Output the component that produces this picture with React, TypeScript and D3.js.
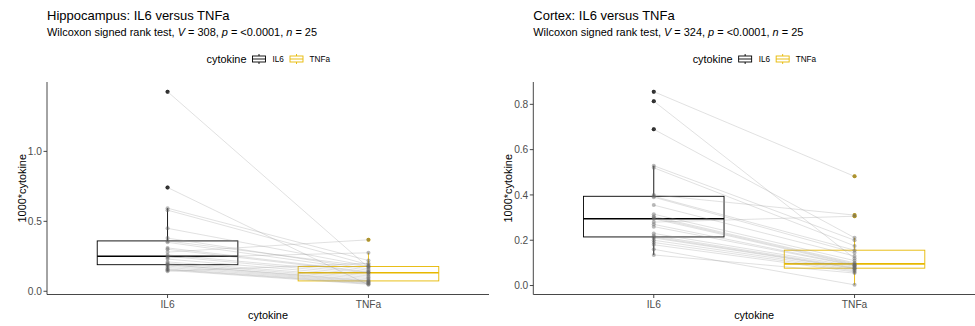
import React from "react";
import * as d3 from "d3";

const groups = ["IL6", "TNFa"];

// hippocampus, paired by subject (same index)
const hippoIL6 = [1.427, 0.742, 0.594, 0.58, 0.45, 0.38, 0.36, 0.35, 0.31, 0.30, 0.28, 0.26, 0.25, 0.24, 0.23, 0.21, 0.20, 0.19, 0.19, 0.18, 0.17, 0.16, 0.155, 0.15, 0.143];
const hippoTNFa = [0.17, 0.046, 0.22, 0.19, 0.18, 0.16, 0.177, 0.15, 0.14, 0.135, 0.368, 0.132, 0.12, 0.275, 0.11, 0.10, 0.09, 0.08, 0.074, 0.07, 0.065, 0.06, 0.055, 0.05, 0.20];

// cortex
const cortexIL6 = [0.856, 0.814, 0.69, 0.529, 0.52, 0.40, 0.394, 0.39, 0.355, 0.315, 0.305, 0.30, 0.295, 0.28, 0.27, 0.26, 0.23, 0.22, 0.2145, 0.21, 0.20, 0.19, 0.18, 0.16, 0.135];
const cortexTNFa = [0.482, 0.12, 0.211, 0.20, 0.175, 0.311, 0.156, 0.145, 0.13, 0.11, 0.10, 0.0956, 0.092, 0.306, 0.09, 0.088, 0.085, 0.08, 0.0766, 0.075, 0.07, 0.065, 0.06, 0.003, 0.055];

const yTicksHippo = [0, 0.5, 1.0];
const yTicksCortex = [0, 0.2, 0.4, 0.6, 0.8];

const colors = { IL6: "#000000", TNFa: "#E7B800" };
const font = "'Liberation Sans', Arial, sans-serif";

const boxStats = (vals: number[]) => {
  const s = vals.slice().sort(d3.ascending);
  const q1 = d3.quantile(s, 0.25) as number;
  const med = d3.quantile(s, 0.5) as number;
  const q3 = d3.quantile(s, 0.75) as number;
  const iqr = q3 - q1;
  const inside = s.filter(v => v >= q1 - 1.5 * iqr && v <= q3 + 1.5 * iqr);
  return {
    q1, med, q3,
    lo: d3.min(inside) as number,
    hi: d3.max(inside) as number,
    out: s.filter(v => v < q1 - 1.5 * iqr || v > q3 + 1.5 * iqr),
  };
};

const Legend = ({ cx }: { cx: number }) => {
  const y = 59;
  const key = (x: number, c: string) => (
    <g stroke={c} strokeWidth={0.9} fill="none">
      <line x1={x + 6.5} x2={x + 6.5} y1={y - 5} y2={y - 3} />
      <rect x={x} y={y - 3} width={13} height={6} />
      <line x1={x} x2={x + 13} y1={y} y2={y} />
      <line x1={x + 6.5} x2={x + 6.5} y1={y + 3} y2={y + 5} />
    </g>
  );
  return (
    <g fontFamily={font}>
      <text x={cx - 61.5} y={y + 4} fontSize={10.9} fill="#000">cytokine</text>
      {key(cx - 15.5, colors.IL6)}
      <text x={cx + 4.5} y={y + 3} fontSize={8.2} fill="#000">IL6</text>
      {key(cx + 22, colors.TNFa)}
      <text x={cx + 41.5} y={y + 3} fontSize={8.2} fill="#000">TNFa</text>
    </g>
  );
};

const Panel = ({ x0, x1, title, V, il6, tnfa, ticks }: any) => {
  const top = 82;
  const bottom = 294.5;
  const all = il6.concat(tnfa);
  const [mn, mx] = d3.extent(all) as [number, number];
  const pad = (mx - mn) * 0.05;
  const y = d3.scaleLinear().domain([mn - pad, mx + pad]).range([bottom, top]);
  const x = d3.scalePoint().domain(groups).range([x0, x1]).padding(0.6);
  const bw = x.step() * 0.7;
  const data: Record<string, number[]> = { IL6: il6, TNFa: tnfa };
  const cx = (x0 + x1) / 2;

  return (
    <g fontFamily={font}>
      <text x={x0} y={20} fontSize={13} fill="#000">{title}</text>
      <text x={x0} y={36} fontSize={10.95} fill="#000">
        Wilcoxon signed rank test, <tspan fontStyle="italic">V</tspan> = {V}, <tspan fontStyle="italic">p</tspan> = &lt;0.0001, <tspan fontStyle="italic">n</tspan> = 25
      </text>
      <Legend cx={cx} />

      {groups.map(g => {
        const st = boxStats(data[g]);
        const gx = x(g) as number;
        return (
          <g key={g} stroke={colors[g as "IL6" | "TNFa"]} fill="none">
            <line x1={gx} x2={gx} y1={y(st.hi)} y2={y(st.q3)} strokeWidth={0.9} />
            <line x1={gx} x2={gx} y1={y(st.q1)} y2={y(st.lo)} strokeWidth={0.9} />
            <rect x={gx - bw / 2} y={y(st.q3)} width={bw} height={y(st.q1) - y(st.q3)} strokeWidth={0.9} />
            <line x1={gx - bw / 2} x2={gx + bw / 2} y1={y(st.med)} y2={y(st.med)} strokeWidth={1.6} />
            {st.out.map((v, i) => (
              <circle key={i} cx={gx} cy={y(v)} r={2} fill={colors[g as "IL6" | "TNFa"]} stroke="none" />
            ))}
          </g>
        );
      })}

      {il6.map((v: number, i: number) => (
        <line key={i} x1={x("IL6")} x2={x("TNFa")} y1={y(v)} y2={y(tnfa[i])}
          stroke="#999" strokeOpacity={0.5} strokeWidth={0.6} />
      ))}
      {groups.map(g => data[g].map((v, i) => (
        <circle key={g + i} cx={x(g)} cy={y(v)} r={2} fill="#666" fillOpacity={0.45} />
      )))}

      {/* axes */}
      <line x1={x0} x2={x0} y1={top} y2={bottom} stroke="#333" strokeWidth={0.9} />
      <line x1={x0} x2={x1} y1={bottom} y2={bottom} stroke="#333" strokeWidth={0.9} />
      {ticks.map((t: number) => (
        <g key={t}>
          <line x1={x0 - 3.5} x2={x0} y1={y(t)} y2={y(t)} stroke="#333" strokeWidth={0.9} />
          <text x={x0 - 5} y={y(t)} dy="0.35em" textAnchor="end" fontSize={10.2} fill="#4D4D4D">
            {d3.format(".1f")(t)}
          </text>
        </g>
      ))}
      {groups.map(g => (
        <g key={g}>
          <line x1={x(g)} x2={x(g)} y1={bottom} y2={bottom + 3.5} stroke="#333" strokeWidth={0.9} />
          <text x={x(g)} y={bottom + 13} textAnchor="middle" fontSize={10.2} fill="#4D4D4D">{g}</text>
        </g>
      ))}
      <text x={cx} y={319} textAnchor="middle" fontSize={10.9} fill="#000">cytokine</text>
      <text transform={`translate(${x0 - 21.5},${(top + bottom) / 2}) rotate(-90)`} textAnchor="middle"
        fontSize={10.9} fill="#000">1000*cytokine</text>
    </g>
  );
};

export default function App() {
  return (
    <svg width={975} height={326} style={{ position: "absolute", left: 0, top: 0, background: "#fff" }}>
      <rect width={975} height={326} fill="#fff" />
      <Panel x0={47} x1={489} title="Hippocampus: IL6 versus TNFa" V={308}
        il6={hippoIL6} tnfa={hippoTNFa} ticks={yTicksHippo} />
      <Panel x0={533.3} x1={975} title="Cortex: IL6 versus TNFa" V={324}
        il6={cortexIL6} tnfa={cortexTNFa} ticks={yTicksCortex} />
    </svg>
  );
}
